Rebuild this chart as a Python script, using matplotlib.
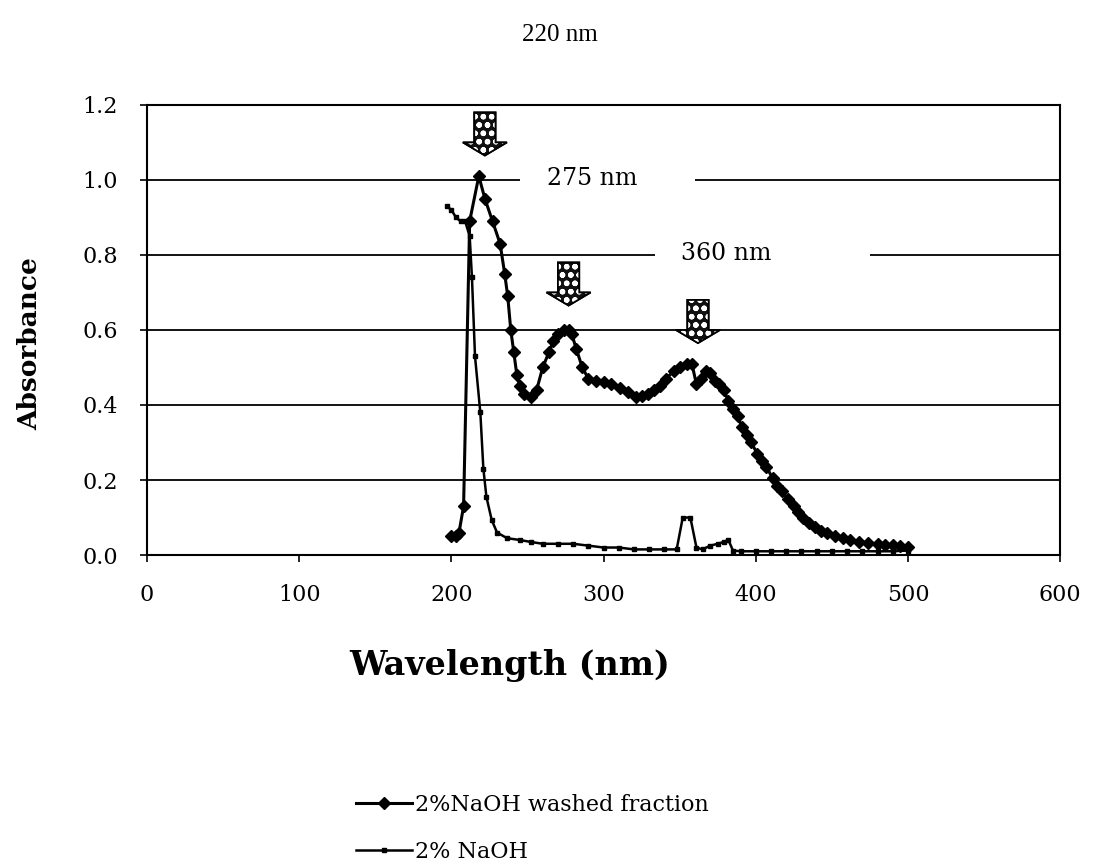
import matplotlib
matplotlib.use("Agg")
import matplotlib.pyplot as plt
from matplotlib.patches import Polygon, Rectangle

plt.rcParams['font.family'] = ['DejaVu Serif']
plt.rcParams['hatch.linewidth'] = 1.6

# 2% NaOH washed fraction
wl_washed = [200, 203, 205, 208, 212, 218, 222, 227, 232, 235, 237, 239, 241, 243,
             245, 248, 252, 256, 260, 264, 267, 270, 274, 277, 279, 282, 286, 290,
             295, 300, 305, 311, 316, 321, 325, 329, 333, 337, 341, 346, 350, 355,
             358, 361, 364, 367, 370, 373, 376, 379, 382, 385, 388, 391, 394, 397,
             401, 404, 407, 411, 414, 417, 421, 425, 428, 431, 435, 439, 443, 447,
             452, 457, 462, 468, 474, 480, 485, 490, 495, 500]
abs_washed = [0.05, 0.05, 0.06, 0.13, 0.89, 1.01, 0.95, 0.89, 0.83, 0.75, 0.69, 0.60, 0.54, 0.48,
              0.45, 0.43, 0.42, 0.44, 0.50, 0.54, 0.57, 0.59, 0.60, 0.60, 0.59, 0.55, 0.50, 0.47,
              0.465, 0.46, 0.455, 0.445, 0.435, 0.42, 0.425, 0.43, 0.44, 0.45, 0.47, 0.49, 0.50, 0.51,
              0.51, 0.455, 0.47, 0.49, 0.485, 0.465, 0.455, 0.44, 0.41, 0.39, 0.37, 0.34, 0.32, 0.30,
              0.27, 0.25, 0.235, 0.205, 0.185, 0.17, 0.15, 0.13, 0.115, 0.10, 0.085, 0.075, 0.065, 0.058,
              0.05, 0.045, 0.04, 0.035, 0.032, 0.03, 0.028, 0.027, 0.025, 0.022]

# 2% NaOH
wl_naoh = [197, 200, 203, 206, 209, 212, 213.5, 215.5, 219, 221, 223, 226.5, 230, 236.5,
           245, 252, 260, 270, 280, 290, 300, 310, 320, 330, 340, 348, 352, 357, 361,
           365, 370, 375, 379, 382, 385, 390, 400, 410, 420, 430, 440, 450, 460, 470,
           480, 490, 500]
abs_naoh = [0.93, 0.92, 0.90, 0.89, 0.89, 0.85, 0.74, 0.53, 0.38, 0.23, 0.155, 0.093, 0.06, 0.045,
            0.04, 0.035, 0.03, 0.03, 0.03, 0.025, 0.02, 0.02, 0.015, 0.015, 0.015, 0.015, 0.10, 0.10, 0.02,
            0.015, 0.025, 0.03, 0.035, 0.04, 0.012, 0.01, 0.01, 0.01, 0.01, 0.01, 0.01, 0.01, 0.01, 0.01,
            0.01, 0.01, 0.012]

peak_wl = [220, 275, 360]
peak_labels = ["220 nm", "275 nm", "360 nm"]

fig = plt.figure(figsize=(10.93, 8.64), dpi=100)
ax = fig.add_axes([0.1345, 0.3576, 0.8355, 0.521])

ax.plot(wl_washed, abs_washed, color='black', lw=2.2, marker='D', ms=6,
        label='2%NaOH washed fraction', zorder=3)
ax.plot(wl_naoh, abs_naoh, color='black', lw=1.8, marker='s', ms=2.8,
        label='2% NaOH', zorder=3)

ax.set_xlim(0, 600)
ax.set_ylim(0, 1.2)
ax.set_xticks([0, 100, 200, 300, 400, 500, 600])
ax.set_yticks([0.0, 0.2, 0.4, 0.6, 0.8, 1.0, 1.2])
ax.set_yticklabels(['0.0', '0.2', '0.4', '0.6', '0.8', '1.0', '1.2'])
ax.yaxis.grid(True, color='black', lw=1.3)
ax.set_axisbelow(True)
for s in ax.spines.values():
    s.set_linewidth(1.5)
ax.tick_params(axis='both', labelsize=16, direction='out', length=5, width=1.2)
ax.tick_params(axis='x', pad=16)
ax.tick_params(axis='y', pad=16)

# checkered arrows above the peaks
arrow_tops = [1.18, 0.78, 0.68]
for wl, top in zip(peak_wl, arrow_tops):
    c = wl + 2
    pts = [(c - 7, top), (c + 7, top), (c + 7, top - 0.08), (c + 14.5, top - 0.08),
           (c, top - 0.115), (c - 14.5, top - 0.08), (c - 7, top - 0.08)]
    ax.add_patch(Polygon(pts, closed=True, fc='#111111', ec='black', lw=1.2, zorder=5))
    ax.add_patch(Polygon(pts, closed=True, fill=False, hatch='oo', ec='white', lw=0, zorder=6))
    ax.add_patch(Polygon(pts, closed=True, fill=False, ec='black', lw=1.3, zorder=7))

# peak labels, with white gaps cut into the gridlines
ax.add_patch(Rectangle((245, 0.98), 115, 0.04, fc='white', ec='none', zorder=1.5))
ax.add_patch(Rectangle((334, 0.78), 141, 0.04, fc='white', ec='none', zorder=1.5))
fig.text(560 / 1093, 1 - 35 / 864, peak_labels[0], fontsize=18, ha='center', va='center',
         family=['Liberation Serif', 'DejaVu Serif'])
ax.text(292.5, 1.005, peak_labels[1], fontsize=17, ha='center', va='center', zorder=4)
ax.text(380.5, 0.805, peak_labels[2], fontsize=17, ha='center', va='center', zorder=4)

ax.set_ylabel('Absorbance', fontsize=19, fontweight='bold')
ax.yaxis.set_label_coords(-0.115, 0.47)
fig.text(510 / 1093, 1 - 666 / 864, 'Wavelength (nm)', fontsize=24, fontweight='bold',
         ha='center', va='center')

fig.legend(loc='lower left', bbox_to_anchor=(345 / 1093, -0.012), frameon=False,
           fontsize=16, handlelength=2.5, handletextpad=0.15, labelspacing=1.15,
           borderpad=0)

fig.savefig('out.png', dpi=100)
